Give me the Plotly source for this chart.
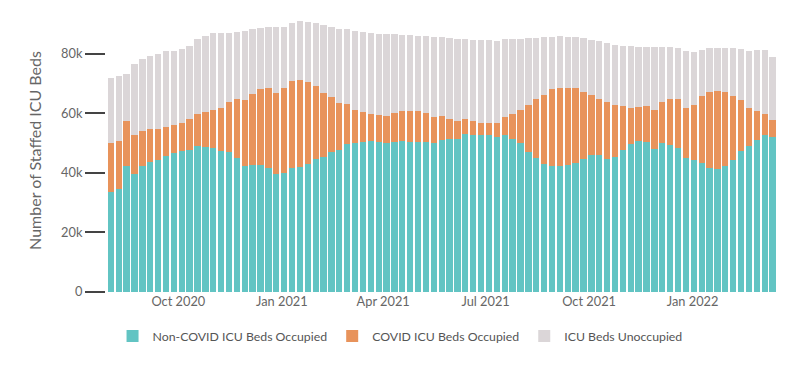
import pandas as pd
import plotly.graph_objects as go

# Weekly dates (Sundays) starting 2020-08-02
start_date = "2020-08-02"
n_weeks = 85
dates = pd.date_range(start=start_date, periods=n_weeks, freq="7D")

# Values in thousands of beds
non_covid_occupied = [
    33.5, 34.7, 42.2, 39.5, 42.3, 43.5, 44.3, 45.6, 46.8, 47.2,
    47.8, 48.9, 48.7, 48.2, 47.5, 47.0, 45.0, 42.2, 42.6, 42.6,
    41.6, 39.5, 40.1, 41.7, 41.9, 43.1, 44.5, 45.3, 46.9, 47.8,
    49.6, 50.0, 50.3, 50.6, 50.3, 50.1, 50.3, 50.6, 50.3, 50.3,
    50.2, 50.0, 50.9, 51.5, 51.3, 53.2, 52.6, 52.6, 52.6, 52.2,
    52.7, 51.5, 49.9, 47.1, 45.1, 43.1, 42.4, 42.4, 42.6, 43.4,
    44.5, 45.9, 46.1, 44.7, 45.3, 47.6, 49.8, 50.6, 50.4, 48.1,
    49.9, 49.5, 48.3, 45.1, 44.2, 43.4, 41.6, 41.2, 42.4, 44.2,
    47.2, 49.0, 51.1, 52.6, 51.9,
]
covid_occupied = [
    16.5, 16.0, 15.1, 13.1, 11.9, 11.1, 10.4, 9.8, 9.4, 9.7,
    10.4, 10.7, 11.7, 12.9, 14.2, 16.7, 19.9, 22.1, 24.0, 25.7,
    27.0, 27.4, 28.4, 29.2, 29.1, 27.3, 24.5, 21.6, 18.4, 15.8,
    13.4, 11.2, 10.1, 9.0, 9.2, 9.0, 9.8, 10.3, 10.4, 10.4,
    9.9, 8.7, 8.1, 6.7, 6.0, 4.9, 4.7, 4.2, 4.2, 4.6,
    6.0, 8.1, 11.3, 15.6, 19.7, 23.1, 25.6, 26.2, 26.0, 25.0,
    22.8, 20.1, 18.8, 19.1, 17.6, 14.8, 11.9, 11.4, 12.0, 12.9,
    14.0, 15.2, 16.4, 16.6, 18.6, 22.3, 25.7, 26.4, 24.6, 21.5,
    17.4, 12.9, 9.6, 7.0, 5.7,
]
unoccupied = [
    21.9, 21.9, 16.0, 23.8, 24.1, 24.7, 25.3, 25.6, 24.8, 24.7,
    24.4, 25.2, 25.5, 25.8, 25.3, 23.4, 22.5, 23.3, 21.6, 20.2,
    20.3, 22.1, 20.6, 19.5, 20.0, 20.4, 21.4, 22.6, 23.6, 24.8,
    25.4, 26.3, 26.8, 27.2, 27.2, 27.5, 26.4, 25.5, 25.5, 25.4,
    25.8, 26.9, 26.5, 27.0, 27.7, 26.9, 27.4, 27.7, 27.7, 27.5,
    26.1, 25.2, 23.8, 22.4, 20.6, 19.3, 17.7, 17.2, 17.1, 17.1,
    17.8, 18.7, 19.2, 19.9, 20.0, 20.3, 20.9, 20.4, 20.0, 21.1,
    18.5, 17.7, 17.3, 19.1, 17.8, 15.7, 14.5, 14.3, 14.9, 16.2,
    17.1, 18.9, 20.6, 21.6, 21.3,
]

series_names = ["Non-COVID ICU Beds Occupied", "COVID ICU Beds Occupied", "ICU Beds Unoccupied"]
series_colors = ["#62c4c3", "#e8935b", "#dbd6d8"]

y_tick_values = [0, 20000, 40000, 60000, 80000]
y_tick_labels = ["0", "20k", "40k", "60k", "80k"]
x_tick_values = ["2020-10-01", "2021-01-01", "2021-04-01", "2021-07-01", "2021-10-01", "2022-01-01"]
x_tick_labels = ["Oct 2020", "Jan 2021", "Apr 2021", "Jul 2021", "Oct 2021", "Jan 2022"]

fig = go.Figure()
for name, vals, col in zip(series_names, [non_covid_occupied, covid_occupied, unoccupied], series_colors):
    fig.add_trace(go.Bar(
        x=dates, y=[v * 1000 for v in vals], name=name,
        marker=dict(color=col, line=dict(width=0)),
    ))

x0 = pd.Timestamp(start_date) - pd.Timedelta(hours=4.3 * 24)
x1 = x0 + pd.Timedelta(hours=607.8 * 24)

font_family = "Lato, 'Open Sans', sans-serif"
fig.update_layout(
    barmode="stack",
    bargap=0.2,
    width=792, height=361,
    margin=dict(l=98, r=10, t=1, b=77, autoexpand=False),
    paper_bgcolor="white", plot_bgcolor="white",
    font=dict(family=font_family, size=13, color="#666666"),
    xaxis=dict(
        type="date", range=[x0, x1], automargin=False,
        tickvals=x_tick_values, ticktext=x_tick_labels,
        showgrid=False, zeroline=False, showline=False, ticks="",
        tickfont=dict(size=12.8, color="#666666"),
    ),
    yaxis=dict(
        range=[0, 95000], automargin=False,
        tickvals=y_tick_values, ticktext=y_tick_labels,
        showgrid=False, zeroline=False, showline=False,
        ticks="outside", ticklen=20, tickwidth=2, tickcolor="#444444",
        tickfont=dict(size=12.8, color="#666666"),
        title=dict(text="Number of Staffed ICU Beds", font=dict(size=16, color="#666666"), standoff=15),
    ),
    legend=dict(
        orientation="h", xref="container", yref="container",
        x=0.495, xanchor="center", y=0.0914, yanchor="middle",
        font=dict(size=12.3, color="#555555"),
        traceorder="normal",
    ),
    showlegend=True,
)

fig.write_html("out.html")
